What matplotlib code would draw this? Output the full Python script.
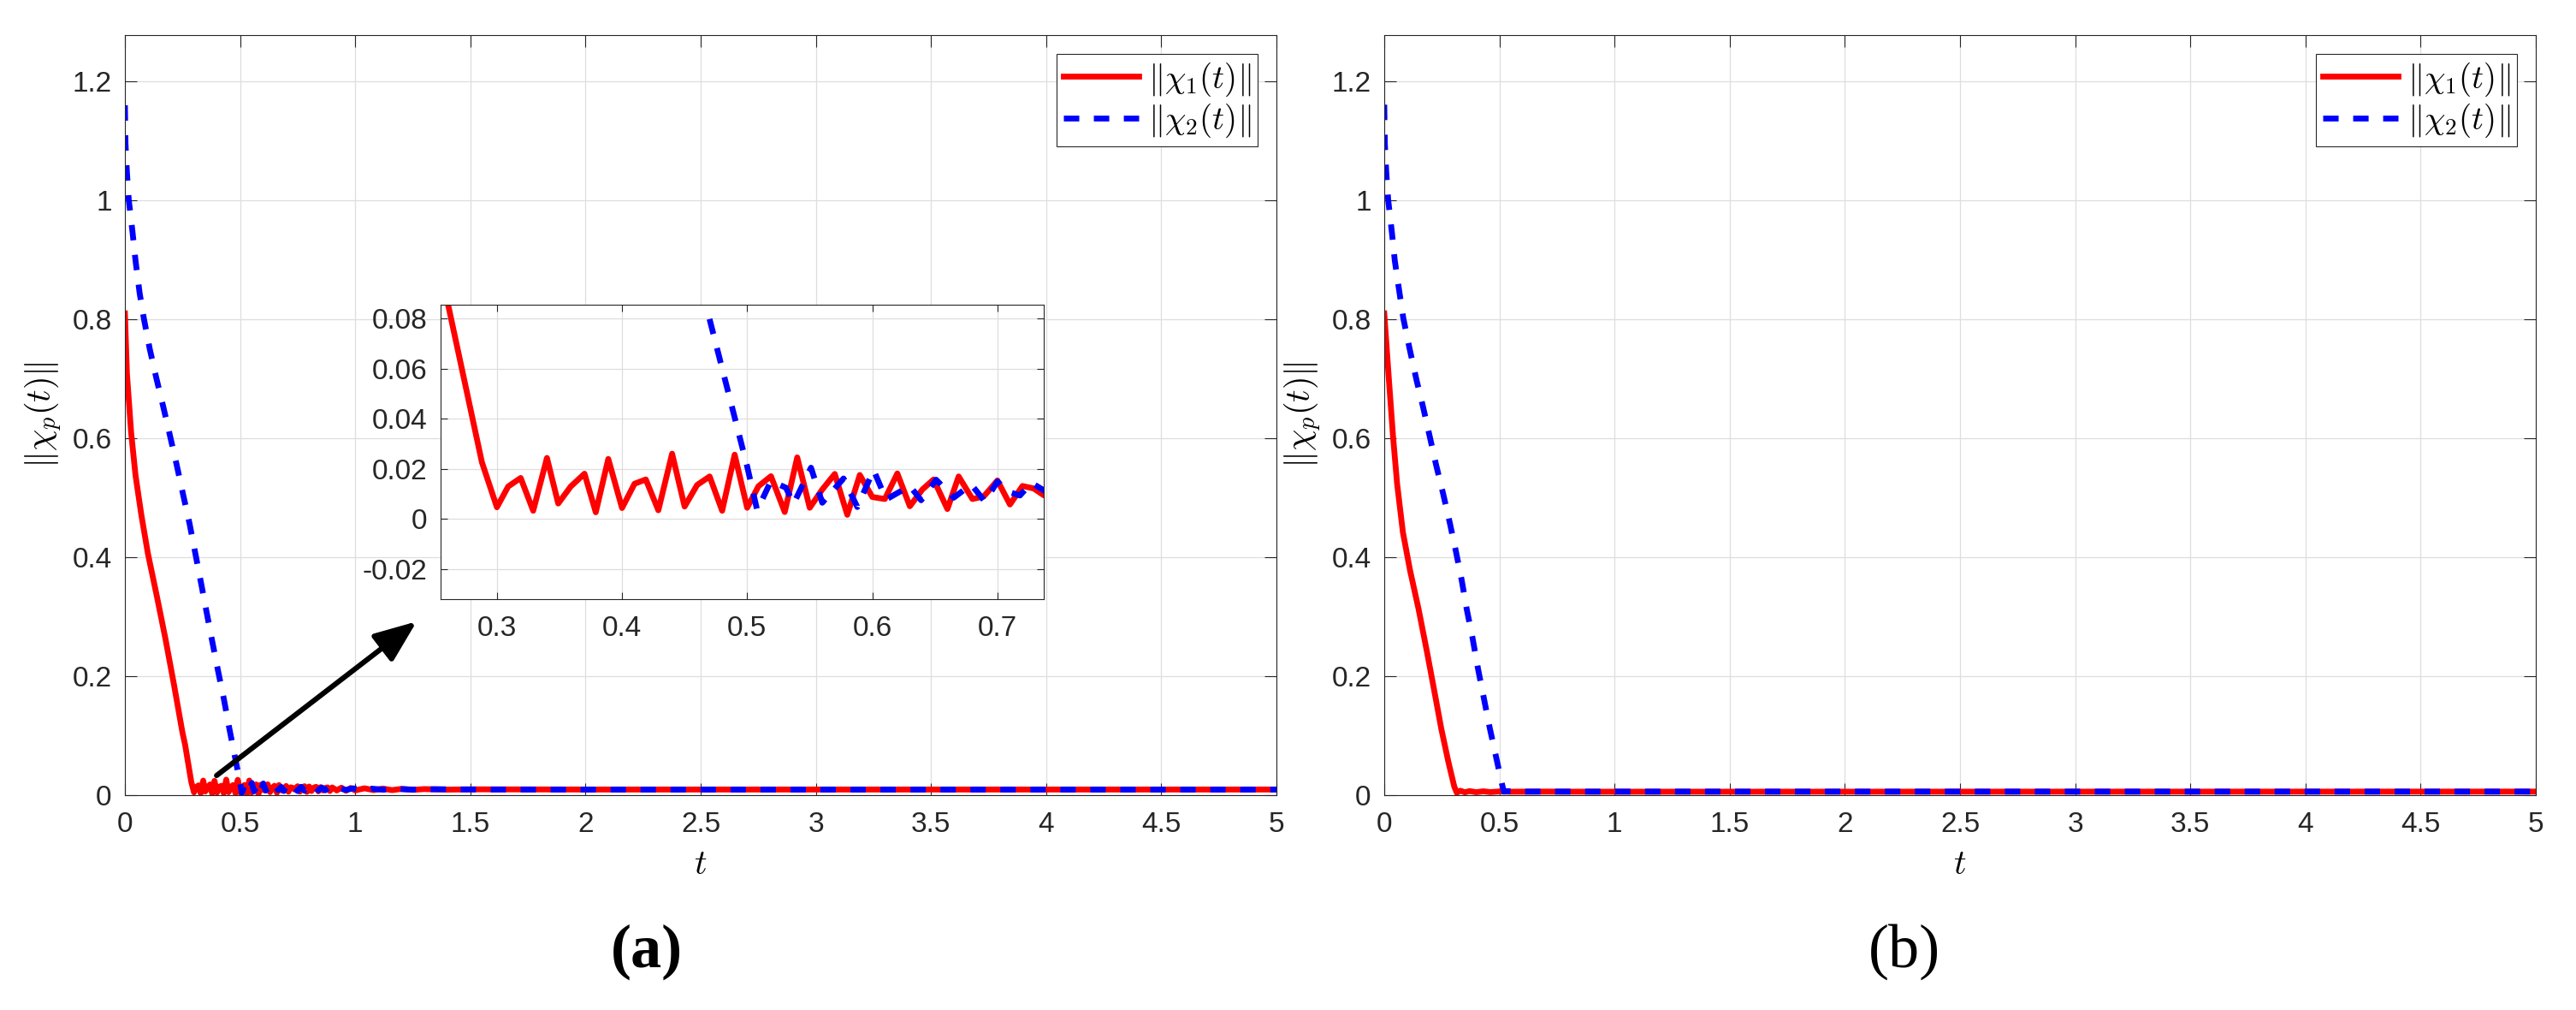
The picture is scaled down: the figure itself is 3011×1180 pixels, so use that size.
import matplotlib
matplotlib.use("Agg")
import matplotlib.pyplot as plt
from matplotlib.ticker import FuncFormatter

plt.rcParams['font.family'] = ['Liberation Sans', 'DejaVu Sans']
plt.rcParams['mathtext.fontset'] = 'cm'
plt.rcParams['axes.unicode_minus'] = False

# ---------------- data: panel (a) ----------------
t_a1 = [0, 0.0087, 0.027, 0.046, 0.071, 0.100, 0.139, 0.176, 0.213, 0.250, 0.261, 0.275, 0.288,
        0.300, 0.309, 0.319, 0.329, 0.340, 0.349, 0.359, 0.370, 0.379, 0.389,
        0.400, 0.410, 0.419, 0.429, 0.440, 0.450, 0.460, 0.470, 0.480, 0.490,
        0.500, 0.509, 0.519, 0.530, 0.540, 0.550, 0.560, 0.570, 0.580, 0.590,
        0.600, 0.610, 0.620, 0.630, 0.640, 0.649, 0.660, 0.669, 0.680, 0.689,
        0.700, 0.710, 0.720, 0.729, 0.737, 0.750, 0.760, 0.770, 0.780, 0.790,
        0.800, 0.810, 0.820, 0.830, 0.840, 0.850, 0.860, 0.870, 0.880, 0.890,
        0.900, 0.920, 0.940, 0.960, 0.980, 1.000, 1.04, 1.08, 1.12, 1.16,
        1.20, 1.25, 1.30, 1.40, 1.50, 2.00, 3.00, 4.00, 5.00]
x_a1 = [0.81, 0.709, 0.61, 0.538, 0.472, 0.406, 0.334, 0.263, 0.186, 0.105, 0.0856, 0.053, 0.0227,
        0.0047, 0.0130, 0.0164, 0.0033, 0.0244, 0.0062, 0.0130, 0.0181, 0.0027, 0.0240,
        0.0044, 0.0141, 0.0158, 0.0035, 0.0261, 0.0050, 0.0136, 0.0170, 0.0033, 0.0257,
        0.0045, 0.0131, 0.0171, 0.0028, 0.0246, 0.0045, 0.0118, 0.0180, 0.0017, 0.0176,
        0.0088, 0.0080, 0.0182, 0.0051, 0.0118, 0.0158, 0.0040, 0.0170, 0.0080, 0.0090,
        0.0154, 0.0058, 0.0132, 0.0122, 0.0095, 0.0150, 0.0060, 0.0135, 0.0150, 0.0055,
        0.0145, 0.0070, 0.0125, 0.0140, 0.0065, 0.0135, 0.0080, 0.0120, 0.0130, 0.0070,
        0.0130, 0.0080, 0.0125, 0.0075, 0.0120, 0.0080, 0.0115, 0.0085, 0.0110, 0.0085,
        0.0105, 0.0090, 0.0102, 0.0093, 0.0098, 0.0095, 0.0095, 0.0095, 0.0095]

t_a2 = [0, 0.0025, 0.0086, 0.017, 0.033, 0.046, 0.064, 0.083, 0.108, 0.136, 0.166,
        0.196, 0.225, 0.253, 0.281, 0.306, 0.331, 0.355, 0.380, 0.405, 0.430, 0.454,
        0.467, 0.500, 0.508, 0.519, 0.531, 0.537, 0.551, 0.560, 0.577, 0.588, 0.601,
        0.611, 0.630, 0.639, 0.651, 0.665, 0.679, 0.690, 0.700, 0.708, 0.718, 0.727,
        0.737, 0.750, 0.765, 0.780, 0.795, 0.810, 0.825, 0.840, 0.855, 0.870, 0.885,
        0.900, 0.93, 0.96, 0.99, 1.03, 1.07, 1.12, 1.18, 1.25, 1.35, 1.50, 2.00, 5.00]
x_a2 = [1.16, 1.096, 1.048, 1.0, 0.947, 0.899, 0.844, 0.80, 0.75, 0.702, 0.654,
        0.604, 0.555, 0.505, 0.456, 0.406, 0.356, 0.307, 0.257, 0.208, 0.161, 0.111,
        0.0856, 0.021, 0.0035, 0.0152, 0.0125, 0.0060, 0.0205, 0.0065, 0.0162, 0.0048, 0.0196,
        0.0078, 0.0132, 0.0075, 0.0157, 0.0085, 0.0138, 0.0070, 0.0150, 0.0110, 0.0094, 0.0145,
        0.0115, 0.0070, 0.0140, 0.0075, 0.0135, 0.0078, 0.0130, 0.0080, 0.0128, 0.0082, 0.0125,
        0.0085, 0.0120, 0.0087, 0.0115, 0.0090, 0.0110, 0.0092, 0.0105, 0.0094, 0.0100, 0.0096, 0.0095, 0.0095]

# ---------------- data: panel (b) ----------------
t_b1 = [0, 0.02, 0.038, 0.056, 0.081, 0.112, 0.149, 0.186, 0.217, 0.248, 0.279, 0.304,
        0.315, 0.330, 0.350, 0.370, 0.400, 0.430, 0.460, 0.500, 0.550, 0.700, 0.900, 5.00]
x_b1 = [0.81, 0.70, 0.604, 0.523, 0.442, 0.378, 0.313, 0.24, 0.176, 0.111, 0.055, 0.0145,
        0.004, 0.0075, 0.0048, 0.0068, 0.0050, 0.0065, 0.0052, 0.0062, 0.0058, 0.0060, 0.0058, 0.0060]

t_b2 = [0, 0.0025, 0.0086, 0.0173, 0.033, 0.0457, 0.0642, 0.0827, 0.111, 0.1407, 0.169,
        0.197, 0.2247, 0.2556, 0.284, 0.3111, 0.336, 0.358, 0.383, 0.4074, 0.432, 0.457,
        0.484, 0.509, 0.519, 0.530, 0.600, 5.00]
x_b2 = [1.161, 1.096, 1.048, 1.0, 0.947, 0.899, 0.85, 0.802, 0.749, 0.697, 0.652,
        0.604, 0.556, 0.507, 0.459, 0.41, 0.362, 0.313, 0.265, 0.212, 0.164, 0.115,
        0.067, 0.0226, 0.006, 0.0068, 0.0060, 0.0060]

labels = [r'$\|\chi_1(t)\|$', r'$\|\chi_2(t)\|$']
xticks_main = [0, 0.5, 1, 1.5, 2, 2.5, 3, 3.5, 4, 4.5, 5]
yticks_main = [0, 0.2, 0.4, 0.6, 0.8, 1.0, 1.2]
xticks_ins = [0.3, 0.4, 0.5, 0.6, 0.7]
yticks_ins = [-0.02, 0, 0.02, 0.04, 0.06, 0.08]

RED = '#ff0000'
BLUE = '#0000ff'
LW = 4.9
DASH = (0, (2.65, 2.5))
AX_COL = '#262626'
GRID_COL = '#dedede'

W, H = 3011, 1180
fig = plt.figure(figsize=(W / 100, H / 100), dpi=100)

fmt = FuncFormatter(lambda v, p: '{:g}'.format(round(v, 6)))


def style(ax, ticklen, xpad, ypad):
    ax.tick_params(axis='both', which='both', direction='in', length=ticklen, width=0.8,
                   colors=AX_COL, labelsize=24, top=True, right=True)
    ax.tick_params(axis='x', pad=xpad)
    ax.tick_params(axis='y', pad=ypad)
    ax.grid(True, color=GRID_COL, lw=0.9)
    ax.set_axisbelow(True)
    for s in ax.spines.values():
        s.set_color(AX_COL)
        s.set_linewidth(0.8)
    ax.xaxis.set_major_formatter(fmt)
    ax.yaxis.set_major_formatter(fmt)


def main_panel(rect, t1, x1, t2, x2):
    ax = fig.add_axes(rect)
    ax.plot(t1, x1, color=RED, lw=LW, label=labels[0])
    ax.plot(t2, x2, color=BLUE, lw=LW, ls=DASH, dash_capstyle='butt', label=labels[1])
    ax.set_xlim(0, 5)
    ax.set_ylim(0, 1.278)
    ax.set_xticks(xticks_main)
    ax.set_yticks(yticks_main)
    style(ax, 10, 14, 11)
    ax.set_xlabel(r'$t$', fontsize=29, va='center')
    ax.xaxis.set_label_coords(0.5, -0.0912)
    ax.set_ylabel(r'$\|\chi_p(t)\|$', fontsize=29, va='center')
    ax.yaxis.set_label_coords(-0.0706, 0.5)
    leg = ax.legend(loc='upper right', fontsize=28, frameon=True, fancybox=False,
                    edgecolor=AX_COL, framealpha=1, borderpad=0.2, handlelength=2.26,
                    handletextpad=0.28, labelspacing=0.1, borderaxespad=0.57)
    leg.get_frame().set_linewidth(0.8)
    return ax


bot = 1 - 929 / H
hgt = 888 / H
ax1 = main_panel([146 / W, bot, 1346 / W, hgt], t_a1, x_a1, t_a2, x_a2)
ax2 = main_panel([1618 / W, bot, 1346 / W, hgt], t_b1, x_b1, t_b2, x_b2)

ax1.annotate('', xy=(1.267, 0.292), xytext=(0.398, 0.033),
             arrowprops=dict(arrowstyle='-|>,head_length=1.5,head_width=0.6', color='k',
                             lw=4.4, mutation_scale=20, shrinkA=0, shrinkB=0),
             zorder=10)

ins = fig.add_axes([515 / W, 1 - 700 / H, 705 / W, 344 / H])
ins.set_facecolor('white')
ins.plot(t_a1, x_a1, color=RED, lw=LW)
ins.plot(t_a2, x_a2, color=BLUE, lw=LW, ls=DASH, dash_capstyle='butt')
ins.set_xlim(0.255, 0.737)
ins.set_ylim(-0.032, 0.0856)
ins.set_xticks(xticks_ins)
ins.set_yticks(yticks_ins)
style(ins, 5.5, 14, 11)

fig.text(756 / W, 1 - 1112 / H, '(a)', fontsize=52, fontweight='bold',
         family=['Liberation Serif', 'DejaVu Serif'], ha='center', va='center')
fig.text(2226 / W, 1 - 1112 / H, '(b)', fontsize=52,
         family=['Liberation Serif', 'DejaVu Serif'], ha='center', va='center')

fig.savefig('out.png', dpi=100)
